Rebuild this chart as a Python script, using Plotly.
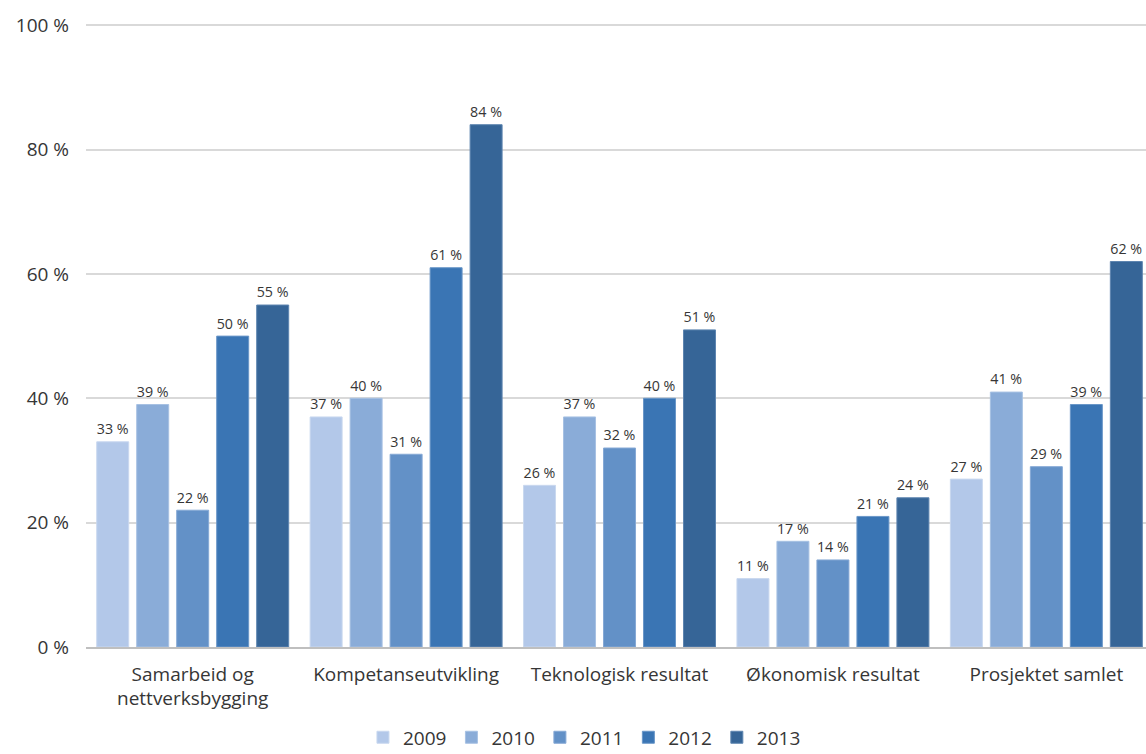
import plotly.graph_objects as go

# Categories along the x axis
categories = [
    "Samarbeid og<br>nettverksbygging",
    "Kompetanseutvikling",
    "Teknologisk resultat",
    "Økonomisk resultat",
    "Prosjektet samlet",
]

years = ["2009", "2010", "2011", "2012", "2013"]

# Share (%) per year, one list per series
v2009 = [33, 37, 26, 11, 27]
v2010 = [39, 40, 37, 17, 41]
v2011 = [22, 31, 32, 14, 29]
v2012 = [50, 61, 40, 21, 39]
v2013 = [55, 84, 51, 24, 62]

series = [v2009, v2010, v2011, v2012, v2013]

y_ticks = [0, 20, 40, 60, 80, 100]

fills = ["#B3C8E9", "#8AACD8", "#6391C7", "#3A75B4", "#366597"]
edges = ["#C9D8EF", "#A7C1E3", "#86A9D5", "#6A97C8", "#5E85B0"]

FONT = "'Open Sans', sans-serif"
TXT = "#363636"

fig = go.Figure()
for name, vals, fc, ec in zip(years, series, fills, edges):
    fig.add_trace(go.Bar(
        name=name,
        x=categories,
        y=vals,
        marker=dict(color=fc, line=dict(color=ec, width=1)),
        text=[f"{v} %" for v in vals],
        textposition="outside",
        textfont=dict(family=FONT, size=15.5, color=TXT),
        cliponaxis=False,
    ))

fig.update_layout(
    width=1146,
    height=754,
    barmode="group",
    bargap=0.063,
    bargroupgap=0.2,
    plot_bgcolor="white",
    paper_bgcolor="white",
    margin=dict(l=86, r=0, t=19, b=107),
    font=dict(family=FONT, size=19, color=TXT),
    showlegend=True,
    legend=dict(
        orientation="h",
        xref="container",
        yref="container",
        x=0.51,
        xanchor="center",
        y=0.022,
        yanchor="middle",
        font=dict(family=FONT, size=19, color=TXT),
        itemwidth=30,
        traceorder="normal",
    ),
)

fig.update_xaxes(
    range=[-0.5, 4.467],
    showline=True,
    linecolor="#BFBFBF",
    linewidth=1.5,
    showgrid=False,
    ticks="",
    tickfont=dict(family=FONT, size=19, color=TXT),
    ticklabelstandoff=9,
)

fig.update_yaxes(
    range=[0, 101],
    tickvals=y_ticks,
    ticktext=[f"{t} %" for t in y_ticks],
    showgrid=True,
    gridcolor="#D9D9D9",
    gridwidth=1.5,
    zeroline=False,
    ticks="",
    tickfont=dict(family=FONT, size=19, color=TXT),
    ticklabelstandoff=16,
)

fig.write_html("out.html")
